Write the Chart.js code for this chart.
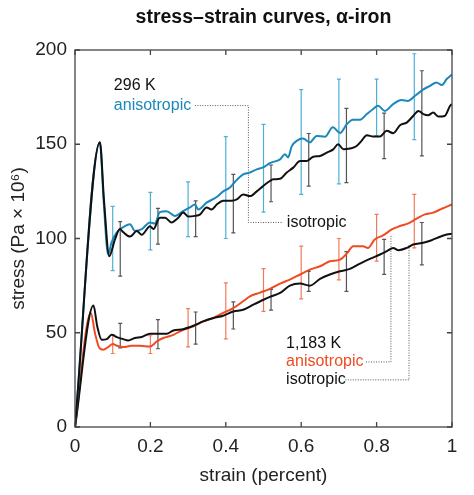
<!DOCTYPE html>
<html>
<head>
<meta charset="utf-8">
<script src="https://cdn.jsdelivr.net/npm/chart.js@4.4.0/dist/chart.umd.min.js"></script>
<style>
  html, body { margin: 0; padding: 0; background: #fff; }
</style>
</head>
<body>
<canvas id="chart" width="474" height="495"></canvas>
<script>
// Curve data (strain, stress)
const aniso296X = [0, 0.066, 0.076, 0.088, 0.097, 0.11, 0.128, 0.146, 0.159, 0.177, 0.199, 0.212, 0.225, 0.243, 0.265, 0.287, 0.305, 0.318, 0.327, 0.349, 0.376, 0.393, 0.411, 0.424, 0.446, 0.464, 0.482, 0.499, 0.517, 0.544, 0.557, 0.565, 0.575, 0.588, 0.605, 0.623, 0.641, 0.663, 0.684, 0.703, 0.721, 0.737, 0.756, 0.774, 0.79, 0.804, 0.822, 0.844, 0.866, 0.883, 0.902, 0.923, 0.942, 0.959, 0.973, 0.986, 1.0];
const aniso296Y = [0, 151, 120, 91.5, 98, 103, 106, 107.5, 104, 105, 108.5, 108, 114, 114.5, 112, 114.5, 116.5, 118, 115.4, 119, 122, 125, 127, 130, 134, 135, 136.7, 137.7, 140, 142, 144.7, 143, 149, 151.8, 153, 151, 154.4, 154, 159, 156, 160.6, 163, 163, 166, 168.6, 170.4, 167.7, 171.3, 173.5, 173, 175.7, 179, 181, 182.8, 181.4, 184.6, 187];

const iso296X = [0, 0.066, 0.077, 0.091, 0.106, 0.119, 0.128, 0.146, 0.164, 0.177, 0.199, 0.208, 0.225, 0.239, 0.256, 0.274, 0.287, 0.3, 0.318, 0.332, 0.349, 0.362, 0.376, 0.393, 0.416, 0.429, 0.446, 0.464, 0.482, 0.499, 0.517, 0.526, 0.544, 0.561, 0.579, 0.597, 0.615, 0.632, 0.65, 0.668, 0.685, 0.698, 0.712, 0.729, 0.747, 0.76, 0.774, 0.791, 0.809, 0.827, 0.844, 0.862, 0.88, 0.897, 0.911, 0.924, 0.937, 0.95, 0.964, 0.981, 0.995, 1.0];
const iso296Y = [0, 151, 120, 90.6, 99.5, 105, 103.4, 101, 104, 102, 106.5, 105, 111, 111, 108.5, 111, 113.8, 111.7, 112, 112.8, 116.5, 115.4, 118, 120, 120, 120.7, 123.4, 122.5, 125, 127.8, 130.5, 131.4, 131.7, 134.9, 137.6, 141.1, 141.1, 143.4, 143.8, 145.6, 147.3, 150, 147.3, 147.7, 149.1, 151.8, 154.8, 154.1, 154.1, 157.1, 155.9, 160.1, 161.5, 165, 167.7, 166, 165.4, 166.8, 164.7, 165, 170.4, 171.3];

const aniso1183X = [0, 0.042, 0.053, 0.065, 0.075, 0.088, 0.1, 0.111, 0.128, 0.15, 0.172, 0.199, 0.217, 0.234, 0.261, 0.287, 0.314, 0.34, 0.367, 0.393, 0.42, 0.446, 0.464, 0.491, 0.517, 0.544, 0.57, 0.597, 0.623, 0.65, 0.676, 0.703, 0.721, 0.738, 0.764, 0.777, 0.795, 0.817, 0.84, 0.862, 0.884, 0.906, 0.928, 0.95, 0.973, 1.0];
const aniso1183Y = [0, 60.5, 49.8, 41.8, 41, 42.4, 44, 43.1, 42.4, 43.1, 43.1, 42.7, 45.4, 47.2, 48.9, 51.6, 53.4, 56, 57.8, 60.5, 63.1, 66.7, 69.3, 71.3, 73.3, 76.1, 78.2, 80.9, 83.5, 85.3, 87.9, 88.8, 92, 95.9, 95.9, 95, 99.5, 101.6, 104.8, 106.6, 108, 110.5, 112.8, 113.7, 115.8, 118.1];

const iso1183X = [0, 0.049, 0.059, 0.071, 0.084, 0.097, 0.111, 0.128, 0.141, 0.159, 0.177, 0.199, 0.221, 0.243, 0.261, 0.287, 0.314, 0.34, 0.367, 0.393, 0.42, 0.446, 0.473, 0.5, 0.517, 0.544, 0.57, 0.597, 0.623, 0.65, 0.676, 0.703, 0.729, 0.756, 0.782, 0.809, 0.827, 0.844, 0.858, 0.88, 0.897, 0.924, 0.946, 0.968, 0.986, 1.0];
const iso1183Y = [0, 64.4, 53.4, 46.3, 46.6, 48.9, 47.7, 46.6, 45.9, 47.2, 47.7, 49.5, 49.5, 49.5, 51.2, 51.9, 53.7, 56, 57.8, 59, 61.3, 62.2, 64.9, 67.5, 69, 71.1, 75, 76.1, 75, 78.6, 80.9, 82.6, 83.9, 86.7, 89.2, 91.5, 93.3, 95, 93.8, 95, 96.8, 97.7, 99.1, 100.9, 102.1, 102.5];

// Error bars: anisotropic at 0.1..0.9, isotropic offset to 0.12..0.92
const errAnisoX = [0.1, 0.2, 0.3, 0.4, 0.5, 0.6, 0.7, 0.8, 0.9];
const errIsoX = [0.12, 0.22, 0.32, 0.42, 0.52, 0.62, 0.72, 0.82, 0.92];
const aniso296Lo = [83, 94, 101, 100, 114, 123.4, 129, 154.4, 152.5];
const aniso296Hi = [117, 124.5, 130, 154, 160.5, 179, 184.6, 184.6, 198];
const iso296Lo = [80, 97, 101, 103, 119.5, 127.8, 129.6, 142.4, 143.8];
const iso296Hi = [109, 116, 120, 134, 139, 155.7, 169, 166.5, 189];
const aniso1183Lo = [39, 39, 42.5, 46.8, 61.3, 68, 78, 88, 95];
const aniso1183Hi = [49, 48.4, 62.8, 76.5, 84, 96, 100, 112.8, 123.4];
const iso1183Lo = [42, 41.5, 44, 52, 62, 72, 72, 81, 86];
const iso1183Hi = [55, 57, 61, 66.4, 73, 82.6, 93, 99.5, 108.5];

// Tick labels
const xTickLabels = ['0', '0.2', '0.4', '0.6', '0.8', '1'];
const yTickLabels = ['0', '50', '100', '150', '200'];

// Annotation labels and their dotted leaders (data coordinates)
const noteTexts = ['296 K', 'anisotropic', 'isotropic', '1,183 K', 'anisotropic', 'isotropic'];
const noteX = [0.103, 0.103, 0.562, 0.56, 0.56, 0.56];
const noteY = [181, 170.5, 108.5, 44.5, 34.5, 25];
const leader296X = [0.318, 0.46, 0.46, 0.549];
const leader296Y = [170.5, 170.5, 108.5, 108.5];
const leaderAniso1183X = [0.772, 0.838, 0.838];
const leaderAniso1183Y = [34.5, 34.5, 102];
const leaderIso1183X = [0.717, 0.886, 0.886];
const leaderIso1183Y = [25, 25, 96.5];

const BLUE = '#1a88bb';
const BLUE_BAR = '#4fb0d6';
const ORANGE = '#f04a22';
const ORANGE_BAR = '#f27a5c';
const BLACK = '#111111';
const GRAY_BAR = '#555555';
const FONT = "'Liberation Sans', Arial, Helvetica, sans-serif";

const noteColors = ['#111', BLUE, '#111', '#111', ORANGE, '#111'];

function pts(xs, ys) {
    return xs.map((x, i) => ({ x: x, y: ys[i] }));
}

function curve(xs, ys, color) {
    return {
        data: pts(xs, ys),
        borderColor: color,
        borderWidth: 2,
        pointRadius: 0,
        fill: false,
        cubicInterpolationMode: 'monotone'
    };
}

function leader(xs, ys) {
    return {
        data: pts(xs, ys),
        borderColor: '#555',
        borderWidth: 1,
        borderDash: [1, 1.5],
        pointRadius: 0,
        fill: false,
        tension: 0
    };
}

// Error bars, drawn under the curves
const errorBarPlugin = {
    id: 'errorBars',
    beforeDatasetsDraw(chart) {
        const ctx = chart.ctx;
        const xs = chart.scales.x;
        const ys = chart.scales.y;
        const groups = [
            [errAnisoX, aniso296Lo, aniso296Hi, BLUE_BAR],
            [errIsoX, iso296Lo, iso296Hi, GRAY_BAR],
            [errAnisoX, aniso1183Lo, aniso1183Hi, ORANGE_BAR],
            [errIsoX, iso1183Lo, iso1183Hi, GRAY_BAR]
        ];
        ctx.save();
        ctx.lineWidth = 1.2;
        groups.forEach(([gx, lo, hi, color]) => {
            ctx.strokeStyle = color;
            gx.forEach((x, i) => {
                const px = xs.getPixelForValue(x);
                const pLo = ys.getPixelForValue(lo[i]);
                const pHi = ys.getPixelForValue(hi[i]);
                ctx.beginPath();
                ctx.moveTo(px, pLo);
                ctx.lineTo(px, pHi);
                ctx.moveTo(px - 2, pLo);
                ctx.lineTo(px + 2, pLo);
                ctx.moveTo(px - 2, pHi);
                ctx.lineTo(px + 2, pHi);
                ctx.stroke();
            });
        });
        ctx.restore();
    }
};

// Frame with inward ticks, annotation text and the title
const framePlugin = {
    id: 'frame',
    afterDraw(chart) {
        const ctx = chart.ctx;
        const a = chart.chartArea;
        const xs = chart.scales.x;
        const ys = chart.scales.y;
        ctx.save();
        ctx.strokeStyle = '#444';
        ctx.lineWidth = 1.3;
        ctx.strokeRect(a.left, a.top, a.right - a.left, a.bottom - a.top);
        ctx.beginPath();
        xs.ticks.forEach(t => {
            const px = xs.getPixelForValue(t.value);
            ctx.moveTo(px, a.bottom);
            ctx.lineTo(px, a.bottom - 5);
            ctx.moveTo(px, a.top);
            ctx.lineTo(px, a.top + 5);
        });
        ys.ticks.forEach(t => {
            const py = ys.getPixelForValue(t.value);
            ctx.moveTo(a.left, py);
            ctx.lineTo(a.left + 5, py);
            ctx.moveTo(a.right, py);
            ctx.lineTo(a.right - 5, py);
        });
        ctx.stroke();

        ctx.font = '16px ' + FONT;
        ctx.textBaseline = 'middle';
        ctx.textAlign = 'left';
        noteTexts.forEach((txt, i) => {
            ctx.fillStyle = noteColors[i];
            ctx.fillText(txt, xs.getPixelForValue(noteX[i]), ys.getPixelForValue(noteY[i]));
        });

        ctx.font = 'bold 19.5px ' + FONT;
        ctx.fillStyle = '#111';
        ctx.textAlign = 'center';
        ctx.fillText('stress\u2013strain curves, \u03b1-iron', (a.left + a.right) / 2, 18);
        ctx.restore();
    }
};

const ctx = document.getElementById('chart').getContext('2d');
const chart = new Chart(ctx, {
    type: 'line',
    data: {
        datasets: [
            curve(iso296X, iso296Y, BLACK),
            curve(aniso296X, aniso296Y, BLUE),
            curve(iso1183X, iso1183Y, BLACK),
            curve(aniso1183X, aniso1183Y, ORANGE),
            leader(leader296X, leader296Y),
            leader(leaderAniso1183X, leaderAniso1183Y),
            leader(leaderIso1183X, leaderIso1183Y)
        ]
    },
    options: {
        responsive: false,
        animation: false,
        devicePixelRatio: 1,
        layout: { padding: { top: 50, right: 22, left: 0, bottom: 0 } },
        plugins: {
            legend: { display: false },
            tooltip: { enabled: false }
        },
        scales: {
            x: {
                type: 'linear',
                min: 0,
                max: 1,
                border: { display: false },
                grid: { display: false, drawTicks: false },
                ticks: {
                    stepSize: 0.2,
                    padding: 8,
                    color: '#222',
                    font: { family: FONT, size: 19 },
                    maxRotation: 0,
                    callback: (v, i) => xTickLabels[i]
                },
                title: {
                    display: true,
                    text: 'strain (percent)',
                    color: '#222',
                    font: { family: FONT, size: 19 },
                    padding: { top: 0, bottom: 8 }
                },
                afterFit: s => { s.height = 68; }
            },
            y: {
                type: 'linear',
                min: 0,
                max: 200,
                border: { display: false },
                grid: { display: false, drawTicks: false },
                ticks: {
                    stepSize: 50,
                    padding: 8,
                    color: '#222',
                    font: { family: FONT, size: 19 },
                    callback: (v, i) => yTickLabels[i]
                },
                title: {
                    display: true,
                    text: 'stress (Pa \u00d7 10\u2076)',
                    color: '#222',
                    font: { family: FONT, size: 19 },
                    padding: { top: 7, bottom: 0 }
                },
                afterFit: s => { s.width = 75; }
            }
        }
    },
    plugins: [errorBarPlugin, framePlugin]
});
</script>
</body>
</html>
